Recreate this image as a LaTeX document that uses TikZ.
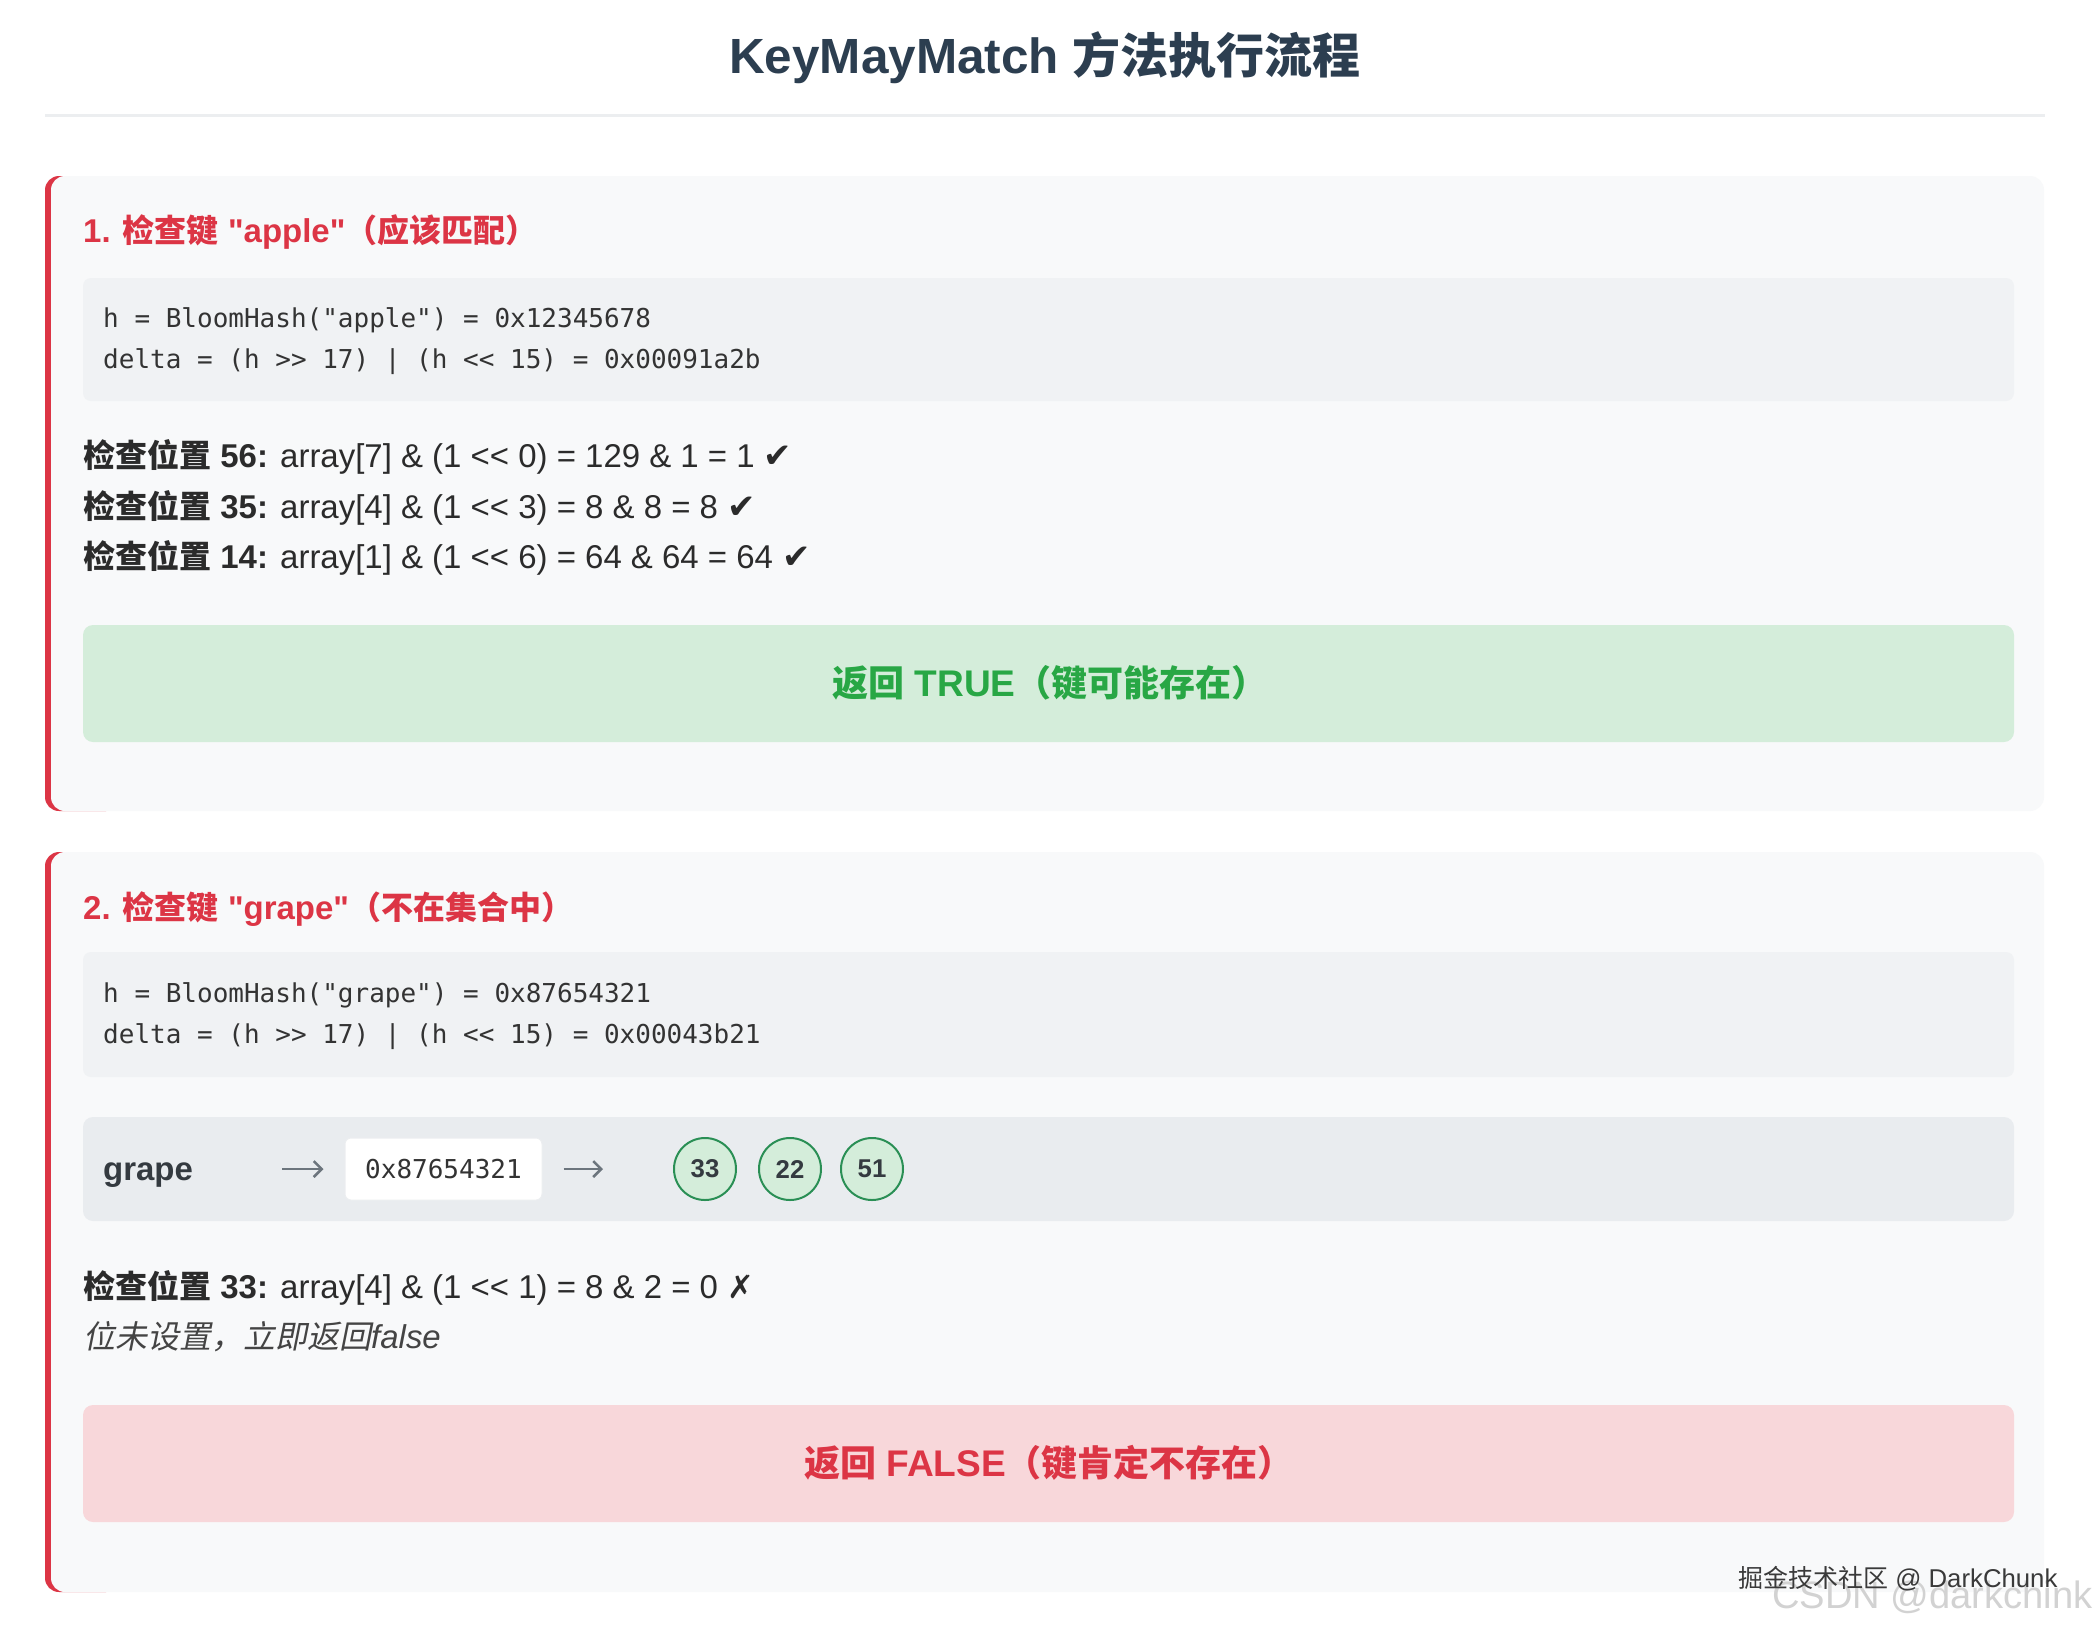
\documentclass[tikz,border=0pt]{standalone}
\usepackage{fontspec}
\setmainfont{Liberation Sans}[Scale=1.03]
\newfontfamily\latq{Liberation Sans}[Scale=1.03]
\newfontfamily\cj{Noto Sans CJK SC}
\newfontfamily\cjsl{Noto Sans CJK SC}[FakeSlant=0.2]
\newfontfamily\mono{DejaVu Sans Mono}
\newfontfamily\sym{DejaVu Sans}
\usetikzlibrary{arrows.meta}
\definecolor{titlec}{HTML}{2C3E50}
\definecolor{hrc}{HTML}{ECEEF0}
\definecolor{cardbg}{HTML}{F8F9FA}
\definecolor{redc}{HTML}{DC3545}
\definecolor{codebg}{HTML}{F0F2F4}
\definecolor{codec}{HTML}{333333}
\definecolor{bodyc}{HTML}{2B2B2B}
\definecolor{greenbg}{HTML}{D4EDDA}
\definecolor{greenc}{HTML}{28A745}
\definecolor{circc}{HTML}{2A8F55}
\definecolor{redbg}{HTML}{F8D7DA}
\definecolor{flowbg}{HTML}{E9ECEF}
\definecolor{arrc}{HTML}{6C757D}
\definecolor{grapec}{HTML}{343A40}
\definecolor{notec}{HTML}{444444}
\definecolor{wm1}{HTML}{3A3A3A}
\definecolor{wm2}{HTML}{D2D2D2}
\newcommand{\chk}{{\sym\fontsize{34}{38}\selectfont ✔}}
\newcommand{\crs}{{\sym\bfseries ✗}}
\newcommand{\dq}{{\latq"}}
\tikzset{
  txt/.style={inner sep=0pt, anchor=base west, text=bodyc, font=\fontsize{32}{38}\selectfont},
  ctitle/.style={inner sep=0pt, anchor=base west, text=redc, font=\bfseries\fontsize{32}{38}\selectfont},
  codetxt/.style={inner sep=0pt, anchor=base west, text=codec, font=\mono\fontsize{26}{32}\selectfont},
  codebox/.style={fill=codebg, rounded corners=8pt, minimum width=1931pt, minimum height=123pt, inner sep=0pt},
  resbox/.style={rounded corners=10pt, minimum width=1931pt, minimum height=117pt, inner sep=0pt},
  restxt/.style={inner sep=0pt, anchor=base, font=\bfseries\fontsize{36}{42}\selectfont},
  flowbox/.style={fill=flowbg, rounded corners=10pt, minimum width=1931pt, minimum height=104pt, inner sep=0pt},
  hexbox/.style={fill=white, draw=hrc, line width=1pt, rounded corners=6pt, minimum width=197pt, minimum height=62pt, inner sep=0pt, text=codec, font=\mono\fontsize{26}{32}\selectfont},
  bitc/.style={circle, fill=greenbg, draw=circc, line width=2pt, minimum size=62pt, inner sep=0pt, text=grapec, font=\bfseries\fontsize{25}{30}\selectfont},
  arr/.style={draw=arrc, line width=2.5pt, -{Straight Barb[length=8pt,width=16pt,line width=2.5pt]}},
}
\begin{document}
\begin{tikzpicture}[x=1pt,y=-1pt]
\useasboundingbox (0,0) rectangle (2096,1630);
\fill[white] (0,0) rectangle (2096,1630);

% title and rule
\node[inner sep=0pt, anchor=base, text=titlec, font=\bfseries\fontsize{48}{56}\selectfont] (title) at (1045,73) {KeyMayMatch {\cj 方法执行流程}};
\fill[hrc] (45,114) rectangle (2045,117);

% ---------- card 1 ----------
\fill[redc, rounded corners=14pt] (45,176) rectangle (120,811);
\fill[cardbg, rounded corners=14pt] (51,176) rectangle (2044,811);
\node[ctitle] (t1) at (83,242) {1. {\cj 检查键} \dq apple\dq{\cj （应该匹配）}};
\node[codebox] (code1) at (1048.5,339.5) {};
\node[codetxt] (c1a) at (103,327) {h = BloomHash("apple") = 0x12345678};
\node[codetxt] (c1b) at (103,368) {delta = (h >{}> 17) | (h <{}< 15) = 0x00091a2b};
\node[txt] (k1) at (83,467) {{\bfseries{\cj 检查位置} 56:} array[7] \& (1 <{}< 0) = 129 \& 1 = 1 \chk};
\node[txt] (k2) at (83,518) {{\bfseries{\cj 检查位置} 35:} array[4] \& (1 <{}< 3) = 8 \& 8 = 8 \chk};
\node[txt] (k3) at (83,568) {{\bfseries{\cj 检查位置} 14:} array[1] \& (1 <{}< 6) = 64 \& 64 = 64 \chk};
\node[resbox, fill=greenbg] (truebox) at (1048.5,683.5) {};
\node[restxt, text=greenc] (truetxt) at (1050,696) {{\cj 返回} TRUE{\cj （键可能存在）}};

% ---------- card 2 ----------
\fill[redc, rounded corners=14pt] (45,852) rectangle (120,1592);
\fill[cardbg, rounded corners=14pt] (51,852) rectangle (2044,1592);
\node[ctitle] (t2) at (83,919) {2. {\cj 检查键} \dq grape\dq{\cj （不在集合中）}};
\node[codebox, minimum height=125pt] (code2) at (1048.5,1014.5) {};
\node[codetxt] (c2a) at (103,1002) {h = BloomHash("grape") = 0x87654321};
\node[codetxt] (c2b) at (103,1043) {delta = (h >{}> 17) | (h <{}< 15) = 0x00043b21};

\node[flowbox] (flow) at (1048.5,1169) {};
\node[inner sep=0pt, anchor=base west, text=grapec, font=\bfseries\fontsize{32}{38}\selectfont] (grape) at (103,1180) {grape};
\node[hexbox] (hex) at (443.5,1169) {0x87654321};
\node[bitc] (b33) at (705,1169) {33};
\node[bitc] (b22) at (790,1169) {22};
\node[bitc] (b51) at (872,1169) {51};
\coordinate (a1) at (282,1169);
\draw[arr, shorten >=21pt] (a1) -- (hex.west);
\draw[arr, shorten <=21pt, shorten >=70pt] (hex.east) -- (b33.west);

\node[txt] (k4) at (83,1298) {{\bfseries{\cj 检查位置} 33:} array[4] \& (1 <{}< 1) = 8 \& 2 = 0 \crs};
\node[txt, text=notec] (note) at (83,1348) {{\cjsl 位未设置，立即返回}{\itshape false}};
\node[resbox, fill=redbg] (falsebox) at (1048.5,1463.5) {};
\node[restxt, text=redc] (falsetxt) at (1049,1476) {{\cj 返回} FALSE{\cj （键肯定不存在）}};

% watermark
\node[inner sep=0pt, anchor=base west, text=wm2, font=\fontsize{37}{42}\selectfont] (wmb) at (1772,1608) {CSDN @darkchink};
\node[inner sep=0pt, anchor=base west, text=wm1, font=\fontsize{25}{29}\selectfont] (wma) at (1738,1587) {{\cj 掘金技术社区} @ DarkChunk};
\end{tikzpicture}
\end{document}
